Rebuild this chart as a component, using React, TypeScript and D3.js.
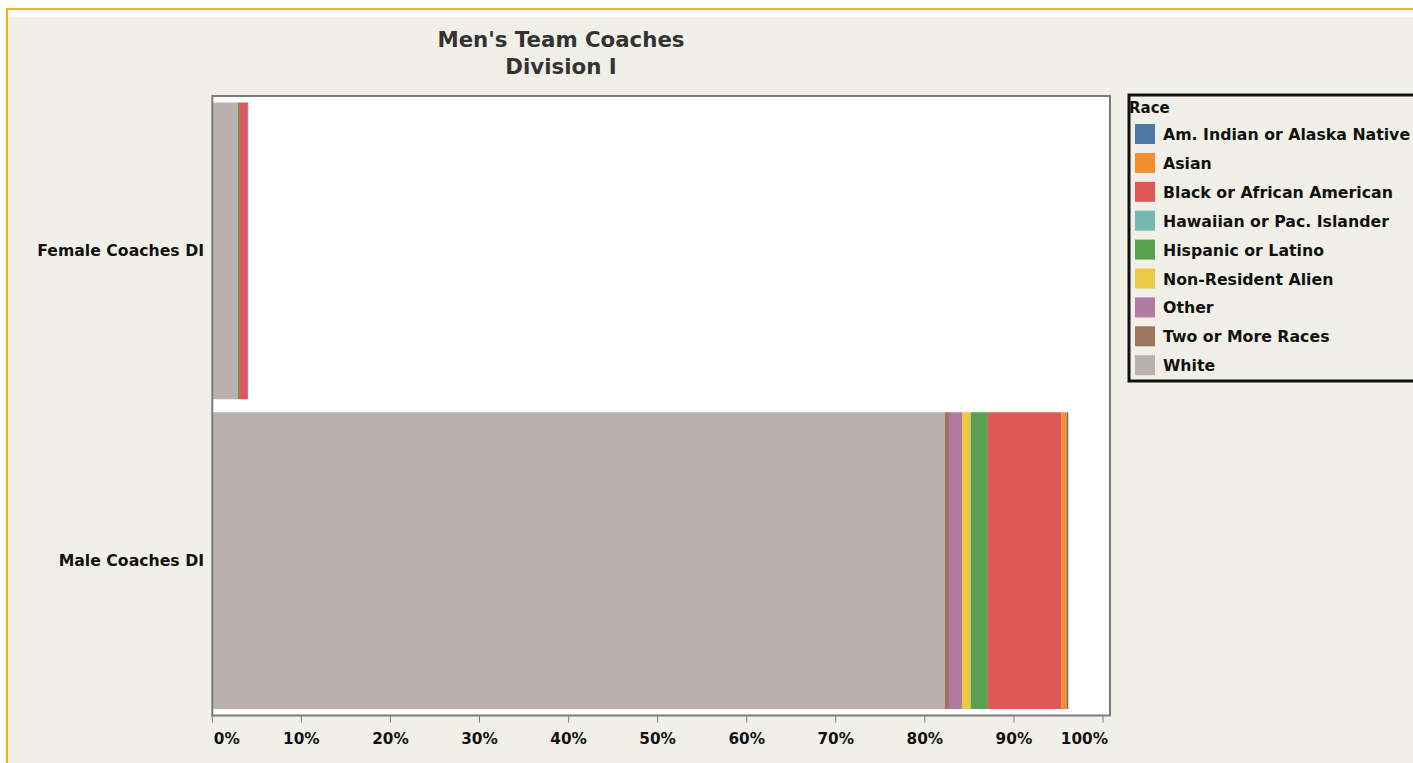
import React from "react";
import * as d3 from "d3";

const categories = ["Female Coaches DI", "Male Coaches DI"];
const races = [
  "Am. Indian or Alaska Native",
  "Asian",
  "Black or African American",
  "Hawaiian or Pac. Islander",
  "Hispanic or Latino",
  "Non-Resident Alien",
  "Other",
  "Two or More Races",
  "White",
];
const raceColors = ["#4e79a7", "#f28e2b", "#e15759", "#76b7b2", "#59a14f", "#edc948", "#b07aa1", "#9c755f", "#bab0ac"];
// percent of all coaches, in legend order
const femaleValues = [0.1, 0, 0.93, 0, 0.15, 0, 0, 0, 2.85];
const maleValues = [0.15, 0.64, 8.24, 0, 1.94, 0.97, 1.46, 0.48, 82.23];
const tickValues = [0, 10, 20, 30, 40, 50, 60, 70, 80, 90, 100];
const titleLines = ["Men's Team Coaches", "Division I"];
const legendTitle = "Race";

const W = 1413;
const H = 763;
const FONT = "'DejaVu Sans', Verdana, sans-serif";

export default function App() {
  const plotLeft = 212.3;
  const plotRight = 1110;
  const plotTop = 96;
  const plotBottom = 715.5;

  const x = d3.scaleLinear().domain([0, 100]).range([plotLeft, 1103]);
  const y = d3
    .scaleBand<string>()
    .domain(categories)
    .range([plotTop, plotBottom])
    .paddingInner(0.042)
    .paddingOuter(0.021);

  const rows = categories.map((c, i) => {
    const vals = i === 0 ? femaleValues : maleValues;
    const obj: any = { category: c };
    races.forEach((r, j) => (obj[r] = vals[j]));
    return obj;
  });
  const stackOrder = races.slice().reverse();
  const stacked = d3.stack<any>().keys(stackOrder)(rows);
  const color = d3.scaleOrdinal<string, string>().domain(races).range(raceColors);

  const legendX = 1129;
  const legendY = 95;
  const itemStep = 28.9;

  return (
    <svg
      width={W}
      height={H}
      style={{ position: "absolute", left: 0, top: 0, display: "block" }}
      fontFamily={FONT}
    >
      <rect x={0} y={0} width={W} height={H} fill="#ffffff" />
      <rect x={7} y={16.5} width={W} height={H} fill="#f0f0e9" />
      <line x1={7} x2={W} y1={9} y2={9} stroke="#e8b818" strokeWidth={2} />
      <line x1={7} x2={7} y1={8} y2={H} stroke="#e8b818" strokeWidth={2} />

      {titleLines.map((t, i) => (
        <text
          key={t}
          x={561}
          y={47 + i * 27}
          textAnchor="middle"
          fontSize={21.3}
          fontWeight="bold"
          fill="#333333"
        >
          {t}
        </text>
      ))}

      <rect x={plotLeft} y={plotTop} width={plotRight - plotLeft} height={plotBottom - plotTop} fill="#ffffff" />

      {stacked.map((s) =>
        s.map((d, i) => {
          const w = x(d[1]) - x(d[0]);
          if (w <= 0) return null;
          return (
            <rect
              key={s.key + i}
              x={x(d[0])}
              y={y(d.data.category)}
              width={w}
              height={y.bandwidth()}
              fill={color(s.key)}
            />
          );
        })
      )}

      <path
        d={`M${plotLeft},${plotBottom} V${plotTop} H${plotRight} V${plotBottom}`}
        fill="none"
        stroke="#7c7c7c"
        strokeWidth={2}
      />
      <line x1={plotLeft - 1} x2={plotRight + 1} y1={plotBottom} y2={plotBottom} stroke="#7c7c7c" strokeWidth={2} />

      {tickValues.map((t, i) => {
        const tx = x(t);
        const anchor = i === 0 ? "start" : i === tickValues.length - 1 ? "end" : "middle";
        const lx = i === 0 ? tx + 1.5 : i === tickValues.length - 1 ? plotRight - 2 : tx;
        return (
          <g key={t}>
            <line x1={tx} x2={tx} y1={plotBottom} y2={722.5} stroke="#7c7c7c" strokeWidth={1} />
            <text x={lx} y={744} textAnchor={anchor} fontSize={15.3} fontWeight="bold" fill="#111">
              {t + "%"}
            </text>
          </g>
        );
      })}

      {categories.map((c) => (
        <text
          key={c}
          x={204}
          y={(y(c) as number) + y.bandwidth() / 2 + 5.5}
          textAnchor="end"
          fontSize={15.7}
          fontWeight="bold"
          fill="#111"
        >
          {c}
        </text>
      ))}

      <rect x={legendX} y={legendY} width={320} height={286} fill="none" stroke="#111" strokeWidth={3} />
      <text x={1129} y={113} fontSize={15} fontWeight="bold" fill="#111">
        {legendTitle}
      </text>
      {races.map((r, i) => {
        const cy = 134 + i * itemStep;
        return (
          <g key={r}>
            <rect x={1135} y={cy - 10} width={20} height={20} fill={color(r)} />
            <text x={1163} y={cy + 6} fontSize={15.75} fontWeight="bold" fill="#111">
              {r}
            </text>
          </g>
        );
      })}
    </svg>
  );
}
